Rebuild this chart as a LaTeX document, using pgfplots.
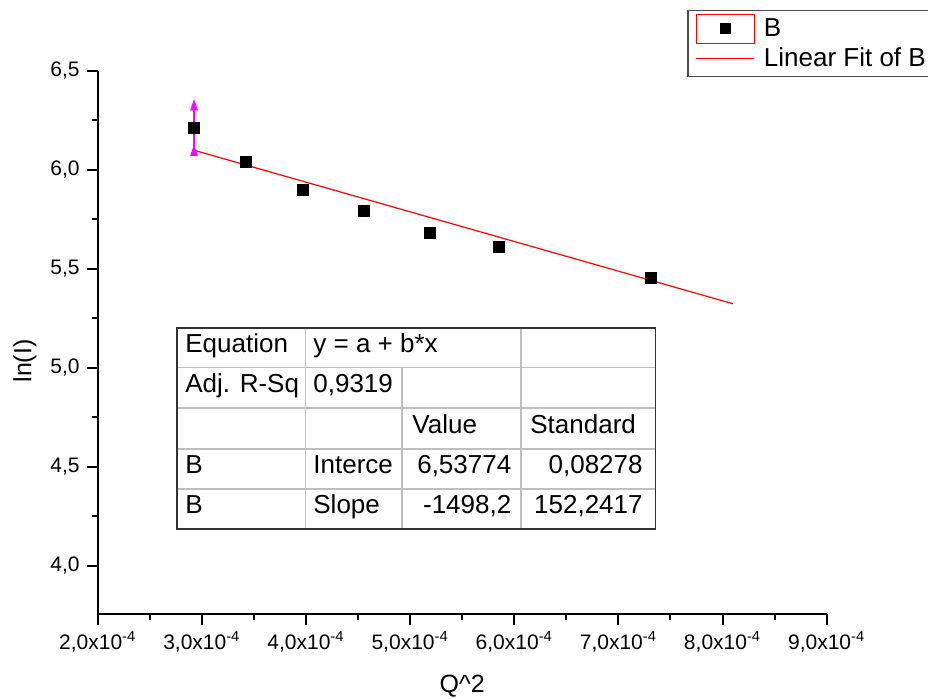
\documentclass[border=0pt]{standalone}
\usepackage{pgfplots}
\pgfplotsset{compat=1.18}
\usepackage{fontspec}
\setmainfont{Liberation Sans}
\definecolor{mag}{RGB}{255,0,255}
\begin{document}
\begin{tikzpicture}
\begin{axis}[
  scale only axis, width=364.5pt, height=271.35pt,
  at={(0pt,0pt)}, anchor=south west,
  xmin=0.0002, xmax=0.0009, ymin=3.759, ymax=6.5,
  axis lines*=left, axis line style={line width=1pt},
  tick align=outside, major tick length=5.5pt, minor tick length=3pt,
  every tick/.style={black, line width=1pt},
  scaled x ticks=false,
  xtick={0.0002,0.0003,0.0004,0.0005,0.0006,0.0007,0.0008,0.0009},
  xticklabels={{2,0x10\textsuperscript{-4}},{3,0x10\textsuperscript{-4}},{4,0x10\textsuperscript{-4}},{5,0x10\textsuperscript{-4}},{6,0x10\textsuperscript{-4}},{7,0x10\textsuperscript{-4}},{8,0x10\textsuperscript{-4}},{9,0x10\textsuperscript{-4}}},
  ytick={4,4.5,5,5.5,6,6.5},
  minor x tick num=1, minor y tick num=1,
  y tick label style={/pgf/number format/.cd, fixed, fixed zerofill, precision=1, use comma, assume math mode=true},
  tick label style={font=\fontsize{10.5}{12}\selectfont},
  xlabel={Q\textasciicircum 2}, ylabel={ln(I)},
  label style={font=\fontsize{12.5}{15}\selectfont},
  x label style={at={(axis description cs:0.5,-0.134)}, anchor=center},
  y label style={at={(axis description cs:-0.0997,0.4656)}, anchor=center},
  legend style={at={(axis description cs:0.8084,1.1124)}, anchor=north west, draw=black!70, line width=0.75pt,
    font=\fontsize{13}{15}\selectfont, inner xsep=4pt, inner ysep=1.5pt, row sep=0pt, column sep=2.5pt,
    nodes={inner sep=2pt}},
  legend cell align=left,
  clip=false,
]
\addplot[only marks, mark=square*, mark size=2.75pt, black,
  legend image code/.code={\draw[red, line width=0.5pt] (0pt,-7.25pt) rectangle (29pt,7.25pt);
    \draw[mark repeat=2, mark phase=2, mark size=2.5pt] plot coordinates {(0pt,0pt) (14.5pt,0pt) (29pt,0pt)};}]
  coordinates {
  (0.0002925,6.212) (0.0003425,6.040) (0.0003972,5.899) (0.0004558,5.793)
  (0.0005192,5.682) (0.0005855,5.611) (0.0007315,5.455)};
\addlegendentry{B}
\addplot[red, line width=0.6pt,
  legend image code/.code={\draw[red, line width=0.6pt] (0pt,0pt) -- (29pt,0pt);}]
  coordinates {(0.0002925,6.0995) (0.000810,5.3242)};
\addlegendentry{Linear Fit of B}
\addplot[draw=none, forget plot, error bars/.cd, y dir=plus, y explicit, error mark=triangle*,
  error mark options={mag, mark size=3.2pt, rotate=-90, xscale=0.6},
  error bar style={mag, line width=0.8pt}]
  coordinates {(0.0002925,6.212) +- (0,0.115)};
\addplot[draw=none, forget plot, error bars/.cd, y dir=minus, y explicit, error mark=triangle*,
  error mark options={mag, mark size=3.2pt, rotate=90, xscale=0.6},
  error bar style={mag, line width=0.8pt}]
  coordinates {(0.0002925,6.212) +- (0,0.115)};
\end{axis}
\begin{scope}[font=\fontsize{13}{15}\selectfont]
  \fill[white] (39.65pt,42.35pt) rectangle (278.9pt,142.85pt);
  \draw[black!25, line width=0.6pt]
    (39.65pt,123.1pt) -- (278.9pt,123.1pt)
    (39.65pt,102.85pt) -- (278.9pt,102.85pt)
    (39.65pt,82.35pt) -- (278.9pt,82.35pt)
    (39.65pt,62.35pt) -- (278.9pt,62.35pt)
    (103.9pt,42.35pt) -- (103.9pt,142.85pt)
    (152.15pt,42.35pt) -- (152.15pt,123.1pt)
    (211.65pt,42.35pt) -- (211.65pt,142.85pt);
  \draw[black!80, line width=0.8pt] (39.65pt,42.35pt) rectangle (278.9pt,142.85pt);
  \begin{scope}[every node/.style={inner sep=0pt}]
  \node[anchor=base west] at (43.65pt,130.5pt) {Equation};
  \node[anchor=base west] at (107.65pt,130.5pt) {y = a + b*x};
  \node[anchor=base west] at (43.65pt,110.4pt) {Adj. R-Sq};
  \node[anchor=base west] at (107.65pt,110.4pt) {0,9319};
  \node[anchor=base west] at (157.15pt,90.0pt) {Value};
  \node[anchor=base west] at (216.15pt,90.0pt) {Standard};
  \node[anchor=base west] at (43.65pt,70.0pt) {B};
  \node[anchor=base west] at (107.65pt,70.0pt) {Interce};
  \node[anchor=base east] at (207.0pt,70.0pt) {6,53774};
  \node[anchor=base east] at (272.65pt,70.0pt) {0,08278};
  \node[anchor=base west] at (43.65pt,50.0pt) {B};
  \node[anchor=base west] at (107.65pt,50.0pt) {Slope};
  \node[anchor=base east] at (207.0pt,50.0pt) {-1498,2};
  \node[anchor=base east] at (272.65pt,50.0pt) {152,2417};
  \end{scope}
\end{scope}
\pgfresetboundingbox
\useasboundingbox (-48.85pt,-42.65pt) rectangle (415.15pt,306.85pt);
\end{tikzpicture}
\end{document}
